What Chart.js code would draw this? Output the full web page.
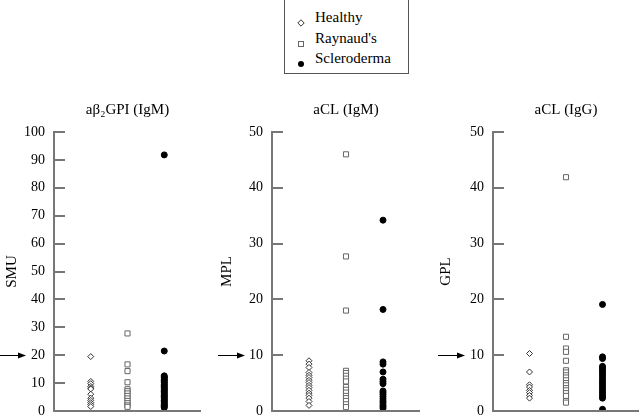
<!DOCTYPE html>
<html>
<head>
<meta charset="utf-8">
<script src="https://cdn.jsdelivr.net/npm/chart.js@4.4.1/dist/chart.umd.min.js"></script>
<style>
  html, body { margin: 0; padding: 0; background: #fff; }
  body { width: 640px; height: 416px; position: relative; overflow: hidden; font-family: "Liberation Serif", "Times New Roman", serif; }
  canvas { position: absolute; top: 90px; }
  #legend { position: absolute; left: 284px; top: -1px; width: 123px; height: 73px; border: 1px solid #555; }
  .item { position: absolute; left: 30px; font-size: 15px; color: #000; line-height: 18px; }
  .mk { position: absolute; left: 12px; }
</style>
</head>
<body>
<div id="legend"></div>
<canvas id="p1" width="210" height="326" style="left:0px"></canvas>
<canvas id="p2" width="220" height="326" style="left:210px"></canvas>
<canvas id="p3" width="210" height="326" style="left:430px"></canvas>
<script>
// ----- data -----
const groups = ['Healthy', "Raynaud's", 'Scleroderma'];
const panelTitles = ['aβ₂GPI (IgM)', 'aCL (IgM)', 'aCL (IgG)'];
const unitLabels = ['SMU', 'MPL', 'GPL'];
const axisMax = [100, 50, 50];
const cutoffs = [20, 10, 10];

const b2gpiHealthy = [19.5, 10.6, 9.8, 8.8, 8.2, 7.9, 6.0, 4.6, 3.8, 3.0, 2.3, 1.6];
const b2gpiRaynaud = [27.8, 16.7, 14.3, 10.3, 7.8, 7.1, 6.3, 5.4, 4.5, 3.6, 2.8, 2.0, 1.5];
const b2gpiSclero = [91.8, 21.5, 12.6, 12.2, 11.9, 11.4, 11.0, 10.5, 10.1, 9.6, 9.2, 8.7, 8.3, 7.9, 7.4, 7.0, 6.5, 6.1, 5.6, 5.2, 4.7, 4.3, 3.8, 3.3, 2.9, 2.4, 2.0, 1.6, 1.2];

const aclmHealthy = [9.0, 8.4, 7.8, 6.9, 6.4, 6.0, 5.5, 5.1, 4.6, 4.2, 3.7, 3.2, 2.8, 2.3, 1.7, 1.0];
const aclmRaynaud = [46.0, 27.7, 18.0, 7.2, 6.8, 6.3, 5.8, 5.3, 4.3, 3.8, 3.3, 2.7, 2.3, 1.8, 1.2, 0.7];
const aclmSclero = [34.2, 18.2, 8.8, 8.4, 7.0, 5.7, 5.3, 4.9, 3.6, 3.3, 3.0, 2.6, 2.2, 1.8, 1.5, 1.1, 0.8, 0.5];

const aclgHealthy = [10.3, 7.0, 4.7, 4.3, 3.7, 3.3, 2.8, 2.3];
const aclgRaynaud = [41.9, 13.3, 11.2, 10.6, 9.0, 7.3, 6.9, 6.4, 6.0, 5.5, 5.0, 4.6, 4.1, 3.7, 3.2, 2.7, 1.8, 1.5];
const aclgSclero = [19.1, 9.7, 9.4, 8.0, 7.7, 7.4, 7.0, 6.6, 6.2, 5.8, 5.4, 5.0, 4.6, 4.2, 3.8, 3.4, 3.0, 2.6, 2.3, 0.3];

const panelData = [
  [b2gpiHealthy, b2gpiRaynaud, b2gpiSclero],
  [aclmHealthy, aclmRaynaud, aclmSclero],
  [aclgHealthy, aclgRaynaud, aclgSclero]
];

// ----- styles / layout -----
const SERIF = '"Liberation Serif", "Times New Roman", serif';
const AXIS = '#777';
const markers = [
  { pointStyle: 'rectRot', radius: 3, borderColor: '#333', backgroundColor: '#fff', borderWidth: 1 },
  { pointStyle: 'rect', radius: 3.6, borderColor: '#666', backgroundColor: '#fff', borderWidth: 1 },
  { pointStyle: 'circle', radius: 3, borderColor: '#000', backgroundColor: '#000', borderWidth: 1 }
];
const axisWidth = [54, 62, 63];
const rightPad = [9, 10, 1];
const titleX = [3, 8, 7];
const arrowFrom = [0, 8, 8];
const arrowTo = [26, 35, 35];

// legend
const legend = document.getElementById('legend');
const mkSvg = [
  '<svg width="8" height="8"><path d="M4 0.8 L7.2 4 L4 7.2 L0.8 4 Z" fill="#fff" stroke="#333"/></svg>',
  '<svg width="8" height="8"><rect x="1.5" y="1.5" width="5" height="5" fill="#fff" stroke="#666"/></svg>',
  '<svg width="8" height="8"><circle cx="4" cy="4" r="3" fill="#000"/></svg>'
];
groups.forEach((g, i) => {
  const top = 8 + i * 20.5;
  legend.innerHTML += `<span class="mk" style="top:${top + 5}px">${mkSvg[i]}</span><span class="item" style="top:${top}px">${g}</span>`;
});

// axis frame, inward tick marks and the cutoff arrow
const axisDecor = {
  id: 'axisDecor',
  afterDraw(chart, args, opts) {
    const ctx = chart.ctx;
    const ys = chart.scales.y;
    const xs = chart.scales.x;
    const L = Math.round(ys.right);
    const B = Math.round(ys.bottom);
    ctx.save();
    ctx.fillStyle = AXIS;
    // y axis and x axis as filled bars, 2px wide
    ctx.fillRect(L - 1, Math.round(ys.top) - 1, 2, B - Math.round(ys.top) + 2);
    ctx.fillRect(L - 1, B - 1, Math.round(xs.right) - L + 1, 2);
    for (let v = 0; v <= opts.max; v += 10) {
      const py = Math.round(ys.getPixelForValue(v));
      ctx.fillRect(L, py - 1, 11, 2);
    }
    const ay = Math.round(ys.getPixelForValue(opts.cutoff)) + 0.5;
    ctx.strokeStyle = '#000';
    ctx.fillStyle = '#000';
    ctx.lineWidth = 1;
    ctx.beginPath();
    ctx.moveTo(opts.from, ay);
    ctx.lineTo(opts.to - 6, ay);
    ctx.stroke();
    ctx.beginPath();
    ctx.moveTo(opts.to, ay);
    ctx.lineTo(opts.to - 8, ay - 3);
    ctx.lineTo(opts.to - 8, ay + 3);
    ctx.closePath();
    ctx.fill();
    ctx.restore();
  }
};

function makePanel(idx) {
  const datasets = panelData[idx].map((vals, g) => ({
    label: groups[g],
    data: vals.map(v => ({ x: g + 1, y: v })),
    pointStyle: markers[g].pointStyle,
    pointRadius: markers[g].radius,
    pointBorderColor: markers[g].borderColor,
    pointBackgroundColor: markers[g].backgroundColor,
    pointBorderWidth: markers[g].borderWidth,
    showLine: false
  }));
  new Chart(document.getElementById('p' + (idx + 1)), {
    type: 'scatter',
    data: { datasets },
    plugins: [axisDecor],
    options: {
      responsive: false,
      animation: false,
      events: [],
      layout: { autoPadding: false, padding: { top: 0, right: rightPad[idx], bottom: 5, left: 0 } },
      plugins: {
        legend: { display: false },
        tooltip: { enabled: false },
        title: {
          display: true,
          text: panelTitles[idx],
          color: '#000',
          fullSize: false,
          font: { family: SERIF, size: 15, weight: 'normal' },
          padding: { top: 11, bottom: 13 }
        },
        axisDecor: { cutoff: cutoffs[idx], max: axisMax[idx], from: arrowFrom[idx], to: arrowTo[idx] }
      },
      scales: {
        x: {
          type: 'linear',
          min: 0,
          max: 4,
          ticks: { display: false },
          grid: { display: false, drawTicks: false },
          border: { display: false },
          afterFit(s) { s.height = 0; s.paddingLeft = 0; s.paddingRight = 0; }
        },
        y: {
          min: 0,
          max: axisMax[idx],
          ticks: { stepSize: 10, color: '#000', padding: 9, font: { family: SERIF, size: 14 } },
          grid: { display: false, drawTicks: false },
          border: { display: false },
          title: {
            display: true,
            text: unitLabels[idx],
            color: '#000',
            font: { family: SERIF, size: 15 },
            padding: { top: titleX[idx], bottom: 0 }
          },
          afterFit(s) { s.width = axisWidth[idx]; s.paddingTop = 0; s.paddingBottom = 0; }
        }
      }
    }
  });
}

[0, 1, 2].forEach(makePanel);
</script>
</body>
</html>
